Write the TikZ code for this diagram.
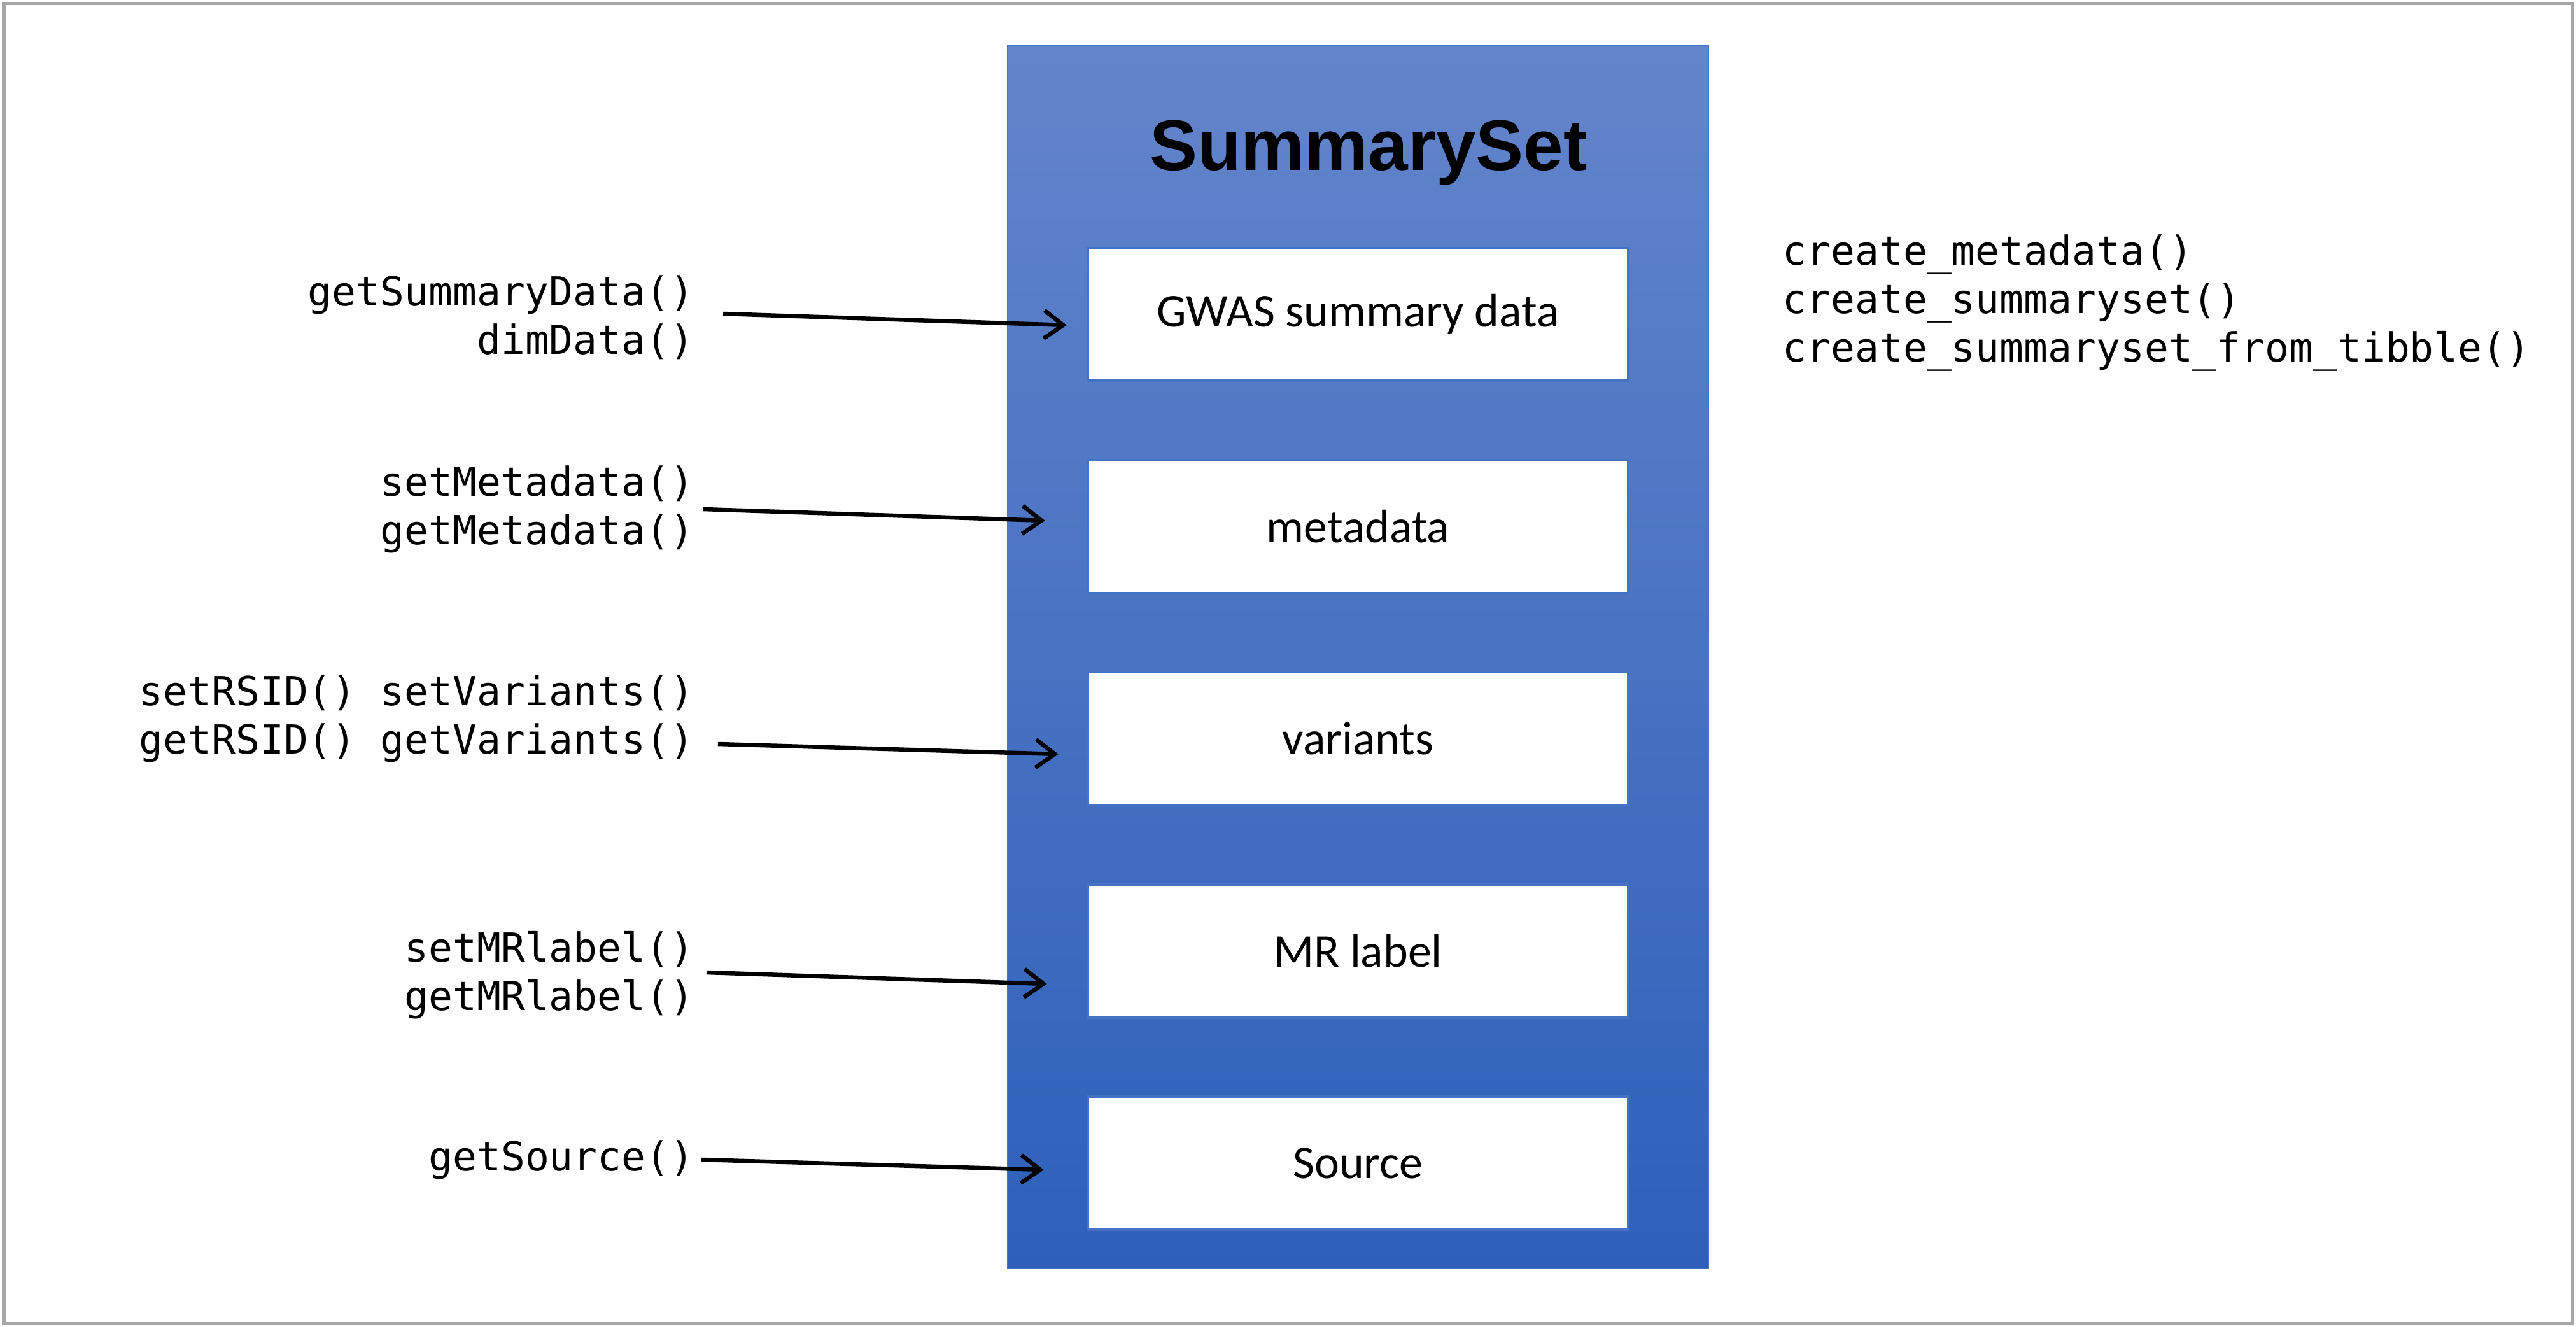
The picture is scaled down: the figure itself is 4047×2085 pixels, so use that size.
\documentclass[tikz,border=0pt]{standalone}
\usepackage{fontspec}
\newfontfamily\monof{DejaVu Sans Mono}
\newfontfamily\calf{Carlito}
\newfontfamily\arialf{Liberation Sans}
\usetikzlibrary{arrows.meta,calc}
\definecolor{framegray}{RGB}{166,166,166}
\definecolor{topblue}{RGB}{99,133,203}
\definecolor{botblue}{RGB}{46,96,186}
\definecolor{edgeblue}{RGB}{68,114,196}
\begin{document}
\begin{tikzpicture}[x=0.01cm,y=-0.01cm,
  field/.style={draw=edgeblue,line width=0.04cm,fill=white,minimum width=8.49cm,minimum height=2.08cm,inner sep=0pt,font=\calf\fontsize{21pt}{25pt}\selectfont},
  lbl/.style={anchor=east,align=right,inner sep=0pt,font=\monof\fontsize{17.9pt}{21.6pt}\selectfont},
  ctorlbl/.style={anchor=west,align=left,inner sep=0pt,font=\monof\fontsize{17.9pt}{21.6pt}\selectfont},
  arr/.style={line width=0.065cm,-{Straight Barb[length=0.3cm,width=0.44cm]}}]
\useasboundingbox (0,0) rectangle (4047,2085);
\draw[framegray,line width=0.05cm] (6,6) rectangle (4041,2079);
\node[draw=edgeblue,line width=0.02cm,top color=topblue,bottom color=botblue,minimum width=11.01cm,minimum height=19.2cm,inner sep=0pt] (ss) at (2133.5,1032) {};
\node[anchor=base,inner sep=0pt,font=\arialf\bfseries\fontsize{32pt}{38pt}\selectfont] (title) at (2150,268) {SummarySet};
\node[field] (b1) at (2133.5,494) {GWAS summary data};
\node[field] (b2) at (2133.5,827.5) {metadata};
\node[field] (b3) at (2133.5,1160.5) {variants};
\node[field] (b4) at (2133.5,1494.5) {MR label};
\node[field] (b5) at (2133.5,1827.5) {Source};
\node[lbl] (l1) at (1091,499) {getSummaryData()\\dimData()};
\node[lbl] (l2) at (1091,800) {setMetadata()\\getMetadata()};
\node[lbl] (l3) at (1091,1129) {setRSID() setVariants()\\getRSID() getVariants()};
\node[lbl] (l4) at (1091,1532) {setMRlabel()\\getMRlabel()};
\node[lbl] (l5) at (1091,1822) {getSource()};
\node[ctorlbl] (ctor) at (2800,476) {create\_metadata()\\create\_summaryset()\\create\_summaryset\_from\_tibble()};
\draw[arr] ($(l1.east)+(45,-6)$) -- ($(b1.west)+(-31,17)$);
\draw[arr] ($(l2.east)+(14,0)$) -- ($(b2.west)+(-65,-9.5)$);
\draw[arr] ($(l3.east)+(37,40)$) -- ($(b3.west)+(-44,24.5)$);
\draw[arr] ($(l4.east)+(19,-4)$) -- ($(b4.west)+(-62,51.5)$);
\draw[arr] ($(l5.east)+(11,0)$) -- ($(b5.west)+(-67,10.5)$);
\end{tikzpicture}
\end{document}
